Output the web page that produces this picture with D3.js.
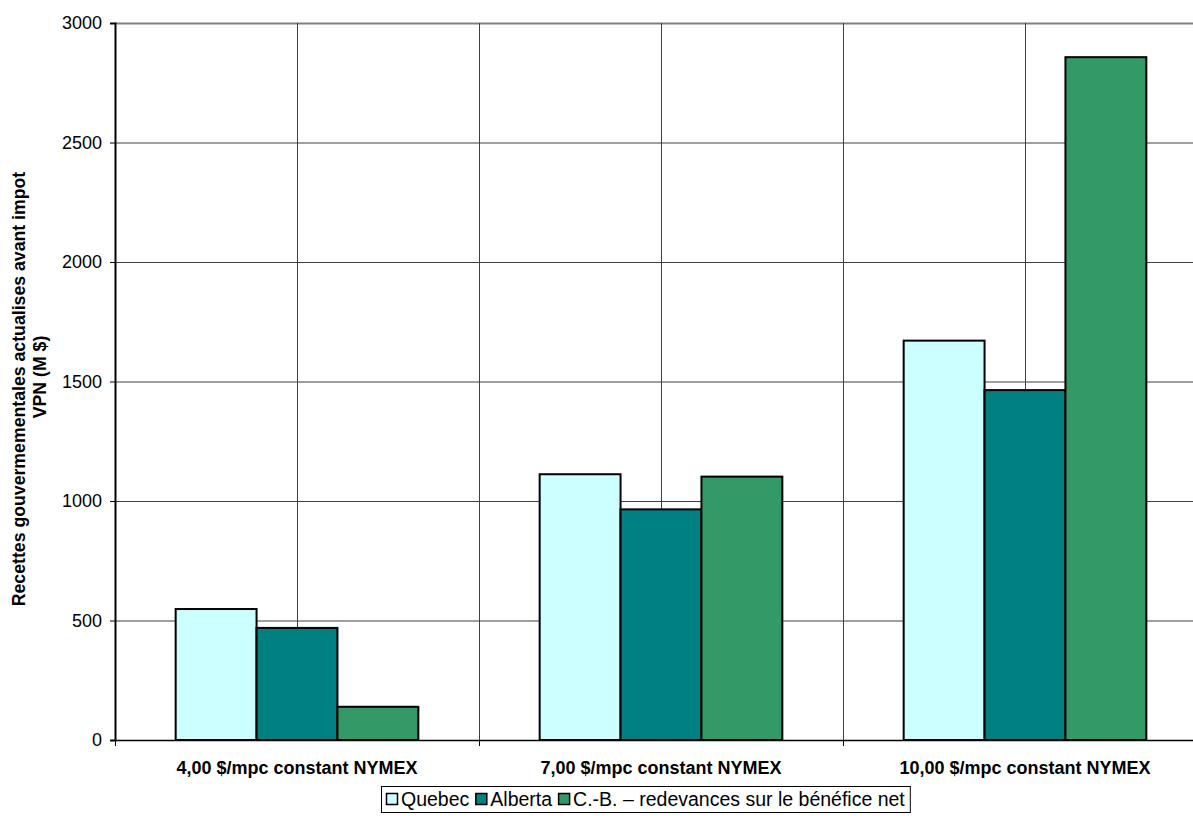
<!DOCTYPE html>
<html><head><meta charset="utf-8">
<script src="https://cdn.jsdelivr.net/npm/d3@7"></script>
<style>body{margin:0;background:#fff;overflow:hidden}svg{display:block;font-family:"Liberation Sans",Arial,sans-serif}</style>
</head><body>
<svg id="c" width="1193" height="821"></svg>
<script>
const categories = ["4,00 $/mpc constant NYMEX", "7,00 $/mpc constant NYMEX", "10,00 $/mpc constant NYMEX"];
const seriesNames = ["Quebec", "Alberta", "C.-B. – redevances sur le bénéfice net"];
const quebec = [548, 1112, 1671];
const alberta = [469, 965, 1464];
const cb = [139, 1102, 2857];
const yTicks = [0, 500, 1000, 1500, 2000, 2500, 3000];
const colors = ["#CCFFFF", "#008080", "#339966"];
const yTitle = ["Recettes gouvermementales actualises avant impot", "VPN (M $)"];

const series = [quebec, alberta, cb];
const svg = d3.select("#c");
const L = 115, R = 1207, T = 23, B = 740;
const FF = "Liberation Sans, Arial, sans-serif";

const x = d3.scaleBand().domain(categories).range([L, R]).paddingInner(0).paddingOuter(0);
const y = d3.scaleLinear().domain([0, 3000]).range([B, T]);
const bw = x.bandwidth();
const inner = d3.scaleBand().domain(d3.range(series.length)).range([bw/6, bw*5/6]);

// horizontal gridlines
svg.append("g").selectAll("line").data(yTicks).join("line")
  .attr("x1", L).attr("x2", R).attr("y1", d => y(d)+0.5).attr("y2", d => y(d)+0.5)
  .attr("stroke", d => d === 3000 ? "#808080" : "#404040").attr("stroke-width", d => d === 3000 ? 2 : 1);

// vertical gridlines
const vlines = [];
categories.forEach((c, i) => { vlines.push(x(c) + bw/2); if (i > 0) vlines.push(x(c)); });
svg.append("g").selectAll("line").data(vlines).join("line")
  .attr("x1", d => Math.round(d)+0.5).attr("x2", d => Math.round(d)+0.5)
  .attr("y1", T).attr("y2", B).attr("stroke", "#404040").attr("stroke-width", 1);

// bars
const g = svg.append("g");
series.forEach((vals, si) => {
  g.selectAll(null).data(vals).join("rect")
    .attr("x", (d, i) => x(categories[i]) + inner(si))
    .attr("y", d => y(d))
    .attr("width", inner.bandwidth())
    .attr("height", d => B - y(d))
    .attr("fill", colors[si]).attr("stroke", "#000").attr("stroke-width", 2);
});

// y axis
const ya = svg.append("g").attr("transform", `translate(${L},0)`)
  .call(d3.axisLeft(y).tickValues(yTicks).tickSize(5).tickPadding(8).tickFormat(d3.format("d")));
ya.select(".domain").attr("stroke", "#000").attr("stroke-width", 2);
ya.selectAll(".tick line").attr("stroke", "#000");
ya.selectAll("text").attr("font-size", 18).attr("fill", "#000").attr("font-family", FF);

// x axis
const xa = svg.append("g").attr("transform", `translate(0,${B})`)
  .call(d3.axisBottom(x).tickSize(0).tickPadding(21));
xa.select(".domain").attr("stroke", "#000").attr("stroke-width", 1.5);
xa.selectAll("text").attr("font-size", 18).attr("font-weight", "bold").attr("fill", "#000").attr("font-family", FF);
const bounds = categories.map(c => x(c)).concat([R]);
svg.append("g").selectAll("line").data(bounds).join("line")
  .attr("x1", d => Math.round(d)+0.5).attr("x2", d => Math.round(d)+0.5)
  .attr("y1", B).attr("y2", B + 6).attr("stroke", "#000");

// y title
svg.append("text").attr("transform", `translate(25,389) rotate(-90)`)
  .attr("text-anchor", "middle").attr("font-size", 17.7).attr("font-weight", "bold").text(yTitle[0]);
svg.append("text").attr("transform", `translate(46,377) rotate(-90)`)
  .attr("text-anchor", "middle").attr("font-size", 17.7).attr("font-weight", "bold").text(yTitle[1]);

// legend
const lg = svg.append("g").attr("transform", "translate(381,786)");
const items = lg.append("g");
let cx = 5;
seriesNames.forEach((n, i) => {
  const it = items.append("g").attr("transform", `translate(${cx},0)`);
  it.append("rect").attr("x", 0.5).attr("y", 7.5).attr("width", 11).attr("height", 11)
    .attr("fill", colors[i]).attr("stroke", "#000").attr("stroke-width", 1.5);
  const t = it.append("text").attr("x", 15).attr("y", 20).attr("font-size", 19.5).text(n);
  cx += 15 + t.node().getComputedTextLength() + 6;
});
lg.insert("rect", ":first-child").attr("x", 0.5).attr("y", 0.5).attr("width", cx - 1).attr("height", 26)
  .attr("fill", "#fff").attr("stroke", "#000").attr("stroke-width", 1);
</script>
</body></html>
